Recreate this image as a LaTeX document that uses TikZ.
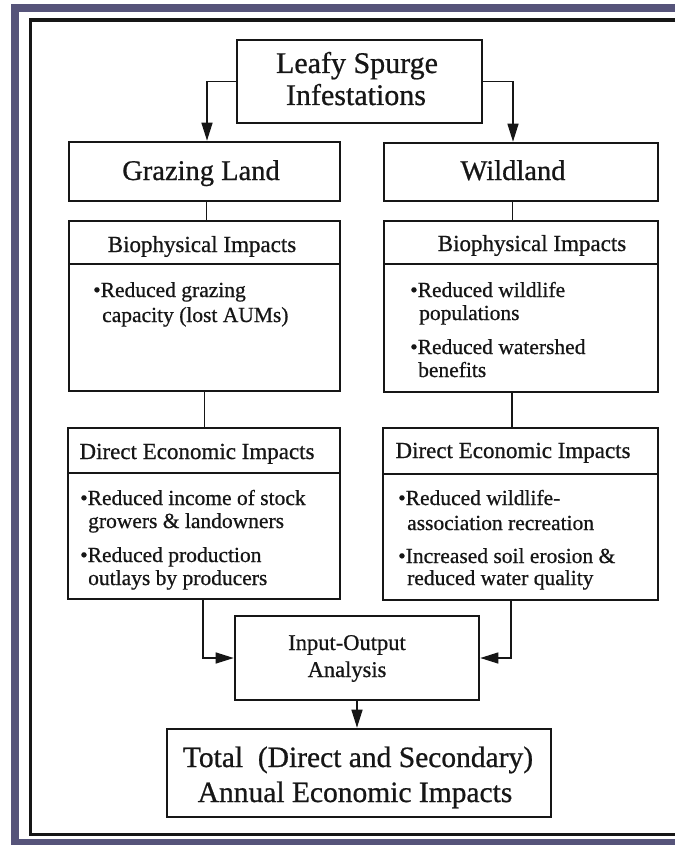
\documentclass[tikz,border=0pt]{standalone}
\usepackage{fontspec}
\setmainfont{Liberation Serif}[FakeBold=0.7]
\usetikzlibrary{arrows.meta}
\definecolor{bgpurple}{RGB}{86,84,122}
\definecolor{ink}{RGB}{22,22,22}
\begin{document}
\begin{tikzpicture}[x=1pt,y=-1pt,
  box/.style={draw=ink, line width=2.6pt, inner sep=0pt, fill=white},
  body/.style={draw=ink, line width=1.5pt, inner sep=0pt, fill=white},
  conn/.style={draw=ink, line width=1.3pt},
  arr/.style={draw=ink, line width=1.3pt, -{Triangle[length=18pt,width=11pt]}},
  lbl/.style={inner sep=0pt, text=ink, anchor=base},
  lbw/.style={inner sep=0pt, text=ink, anchor=base west},
  ftitle/.style={font=\fontsize{30pt}{34pt}\selectfont},
  fland/.style={font=\fontsize{28.5pt}{32pt}\selectfont},
  fhead/.style={font=\fontsize{23pt}{26pt}\selectfont},
  fbul/.style={font=\fontsize{21.5pt}{24pt}\selectfont},
  fio/.style={font=\fontsize{22.5pt}{26pt}\selectfont},
  ftot/.style={font=\fontsize{29.5pt}{34pt}\selectfont}]
\useasboundingbox (0,0) rectangle (675,845);
\fill[white] (0,0) rectangle (675,845);
% scan border
\fill[bgpurple] (11,4) rectangle (675,12);
\fill[bgpurple] (11,4) rectangle (19,845);
\fill[bgpurple] (11,839) rectangle (675,845);
\draw[ink, line width=3.5pt] (675,20) -- (30.5,20) -- (30.5,834.5) -- (675,834.5);

% boxes
\node[box, minimum width=245pt, minimum height=83pt] (lsi) at (359.5,81.5) {};
\node[box, minimum width=271pt, minimum height=59pt] (graz) at (204.5,171.5) {};
\node[box, minimum width=274pt, minimum height=58pt] (wild) at (521,172) {};

\node[body, minimum width=271pt, minimum height=127pt] (bioLb) at (204.5,327.5) {};
\node[box, minimum width=271pt, minimum height=43pt] (bioLh) at (204.5,242.5) {};
\node[body, minimum width=274pt, minimum height=128pt] (bioRb) at (521,328) {};
\node[box, minimum width=274pt, minimum height=43pt] (bioRh) at (521,242.5) {};

\node[body, minimum width=272pt, minimum height=126pt] (dirLb) at (204,536) {};
\node[box, minimum width=272pt, minimum height=45pt] (dirLh) at (204,450.5) {};
\node[body, minimum width=275pt, minimum height=126pt] (dirRb) at (520.5,537) {};
\node[box, minimum width=275pt, minimum height=46pt] (dirRh) at (520.5,451) {};

\node[box, minimum width=244pt, minimum height=84pt] (io) at (357,658) {};
\node[box, minimum width=384pt, minimum height=88pt] (tot) at (359,773) {};

% connectors
\draw[arr] (lsi.west) -| ([xshift=2.5pt]graz.north);
\draw[arr] (lsi.east) -| ([xshift=-8pt]wild.north);
\draw[conn] ([xshift=2pt]graz.south) -- ([xshift=2pt]graz.south |- bioLh.north);
\draw[conn] (bioLb.south) -- (bioLb.south |- dirLh.north);
\draw[conn] ([xshift=-8.5pt]wild.south) -- ([xshift=-8.5pt]wild.south |- bioRh.north);
\draw[conn] ([xshift=-9pt]bioRb.south) -- ([xshift=-9pt]bioRb.south |- dirRh.north);
\draw[arr] ([xshift=-1pt]dirLb.south) |- (io.west);
\draw[arr] ([xshift=-9.5pt]dirRb.south) |- (io.east);
\draw[arr] (io.south) -- (io.south |- tot.north);

% titles
\node[lbl, ftitle] (t1a) at (357,73) {Leafy Spurge};
\node[lbl, ftitle] (t1b) at (356,105) {Infestations};
\node[lbl, fland] (t2) at (201,180) {Grazing Land};
\node[lbl, fland] (t3) at (513,180) {Wildland};

% headers
\node[lbl, fhead] (h1) at (202,252) {Biophysical Impacts};
\node[lbl, fhead] (h2) at (532,251) {Biophysical Impacts};
\node[lbl, fhead] (h3) at (197,459) {Direct Economic Impacts};
\node[lbl, fhead] (h4) at (513,458) {Direct Economic Impacts};

% bullets
\node[lbw, fbul] (b1) at (93,297) {•Reduced grazing};
\node[lbw, fbul] (b2) at (102,322) {capacity (lost AUMs)};

\node[lbw, fbul] (b3) at (410,297) {•Reduced wildlife};
\node[lbw, fbul] (b4) at (419,320) {populations};
\node[lbw, fbul] (b5) at (410,354) {•Reduced watershed};
\node[lbw, fbul] (b6) at (418,377) {benefits};

\node[lbw, fbul] (b7) at (80,505) {•Reduced income of stock};
\node[lbw, fbul] (b8) at (88,528) {growers \& landowners};
\node[lbw, fbul] (b9) at (80,562) {•Reduced production};
\node[lbw, fbul] (b10) at (88,585) {outlays by producers};

\node[lbw, fbul] (b11) at (398,505) {•Reduced wildlife-};
\node[lbw, fbul] (b12) at (407,530) {association recreation};
\node[lbw, fbul] (b13) at (398,563) {•Increased soil erosion \&};
\node[lbw, fbul] (b14) at (407,585) {reduced water quality};

% bottom
\node[lbl, fio] (i1) at (347,650) {Input-Output};
\node[lbl, fio] (i2) at (347,677) {Analysis};
\node[lbl, ftot] (s1) at (358,767) {Total\ \ (Direct and Secondary)};
\node[lbl, ftot] (s2) at (355,802) {Annual Economic Impacts};
\end{tikzpicture}
\end{document}
